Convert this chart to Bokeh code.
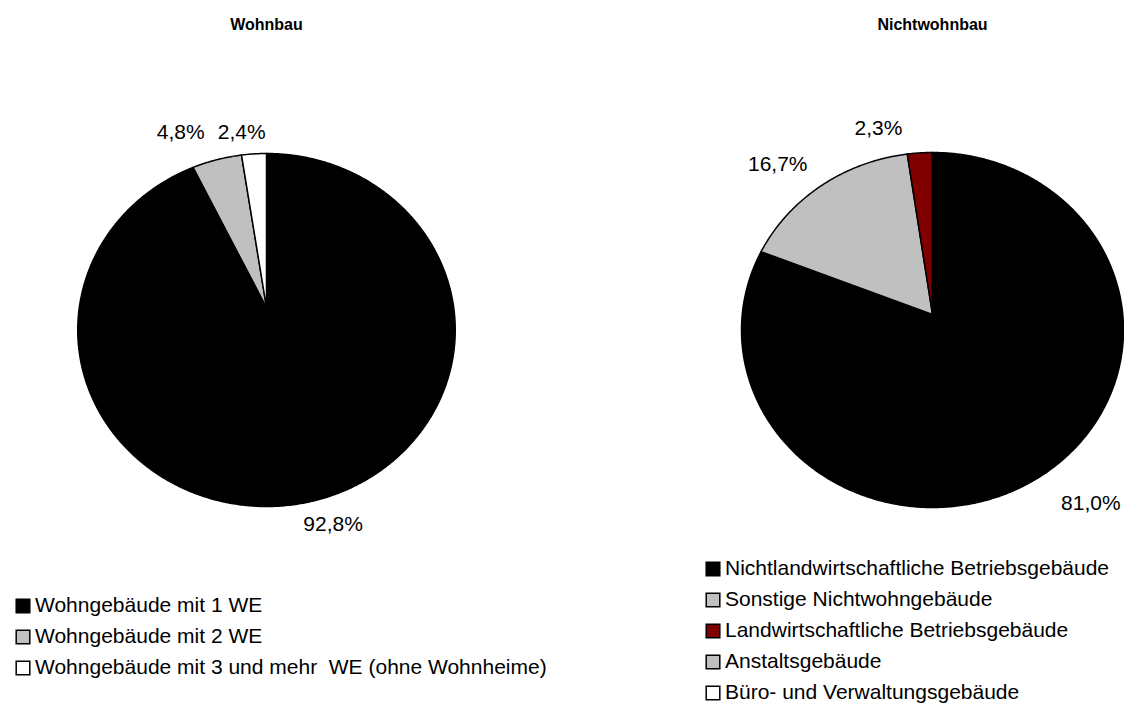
import numpy as np
from bokeh.plotting import figure
from bokeh.models import Range1d, Legend, LegendItem, ColumnDataSource
from bokeh.core.properties import value
from bokeh.embed import file_html
from bokeh.resources import INLINE

# ---------------- data ----------------
wohnbau_title = "Wohnbau"
wohnbau_cats = ["Wohngebäude mit 1 WE",
                "Wohngebäude mit 2 WE",
                "Wohngebäude mit 3 und mehr  WE (ohne Wohnheime)"]
wohnbau_vals = [92.8, 4.8, 2.4]
wohnbau_colors = ["#000000", "#c0c0c0", "#ffffff"]

nwb_title = "Nichtwohnbau"
nwb_cats = ["Nichtlandwirtschaftliche Betriebsgebäude",
            "Sonstige Nichtwohngebäude",
            "Landwirtschaftliche Betriebsgebäude",
            "Anstaltsgebäude",
            "Büro- und Verwaltungsgebäude"]
nwb_vals = [81.0, 16.7, 2.3, 0.0, 0.0]
nwb_colors = ["#000000", "#c0c0c0", "#800000", "#c0c0c0", "#ffffff"]

# ---------------- layout / style ----------------
W, H = 1124, 705
FONT = "Liberation Sans"

p = figure(width=W, height=H, x_range=Range1d(0, W), y_range=Range1d(H, 0),
           x_axis_type=None, y_axis_type=None, toolbar_location=None,
           output_backend="svg", min_border=0, outline_line_color=None)
p.grid.visible = False
p.background_fill_color = "white"


def project(geom, theta, f=1.0):
    """Tilted (perspective) pie: angle measured clockwise from 12 o'clock."""
    cx, cy, rx, up, down = geom
    k = (down - up) / (down + up)
    B = up * (1 + k)
    A = rx * np.sqrt(1 - k * k)
    u = f * np.sin(theta)
    v = f * np.cos(theta)
    d = 1 + k * v
    return cx + A * u / d, cy - B * v / d


def draw_pie(vals, cats, colors, geom, label_f, label_dx, label_dy, title, title_y,
             legend_loc):
    vals = np.asarray(vals, dtype=float)
    frac = vals / vals.sum()
    ends = np.cumsum(frac) * 2 * np.pi
    starts = ends - frac * 2 * np.pi
    xs, ys = [], []
    for a0, a1, fr in zip(starts, ends, frac):
        n = max(2, int(fr * 720))
        t = np.linspace(a0, a1, n)
        px, py = project(geom, t)
        xs.append(np.concatenate([[geom[0]], px]))
        ys.append(np.concatenate([[geom[1]], py]))
    src = ColumnDataSource(dict(xs=xs, ys=ys, color=colors, cat=cats))
    r = p.patches("xs", "ys", source=src, fill_color="color", line_color="black",
                  line_width=1.5, line_join="miter")

    # percentage labels (only non-zero slices)
    mids = (starts + ends) / 2
    lx, ly, lt = [], [], []
    j = 0
    for m, v in zip(mids, vals):
        if v <= 0:
            continue
        x0, y0 = project(geom, m, label_f)
        lx.append(x0 + label_dx[j])
        ly.append(y0 + label_dy[j])
        lt.append(f"{v:.1f}".replace(".", ",") + "%")
        j += 1
    p.text(x=lx, y=ly, text=lt, text_font=value(FONT), text_font_size="21px",
           text_align="center", text_baseline="middle", text_color="black")

    # title
    p.text(x=[geom[0]], y=[title_y], text=[title], text_font=value(FONT),
           text_font_style="bold", text_font_size="16px", text_align="center",
           text_baseline="middle", text_color="black")

    items = [LegendItem(label=c, renderers=[r], index=i) for i, c in enumerate(cats)]
    leg = Legend(items=items, location=legend_loc, orientation="vertical",
                 label_text_font=FONT, label_text_font_size="21px",
                 label_text_color="black", glyph_width=17, glyph_height=17,
                 label_height=24, label_standoff=4, spacing=7, padding=0, margin=0,
                 border_line_color=None, background_fill_alpha=0)
    p.add_layout(leg)


# geometry: (centre x, centre y, half width, extent above centre, extent below centre)
left_geom = (266, 307, 188.75, 154, 199)
right_geom = (932, 314, 191, 162, 193)

draw_pie(wohnbau_vals, wohnbau_cats, wohnbau_colors, left_geom, 1.12,
         [12, -31, -11], [-4, -13, -6], wohnbau_title, 24, (14, 26))
draw_pie(nwb_vals, nwb_cats, nwb_colors, right_geom, 1.12,
         [28, -32, -40], [10, -7, -8], nwb_title, 24, (704, 1))

open("out.html", "w").write(file_html(p, INLINE))
